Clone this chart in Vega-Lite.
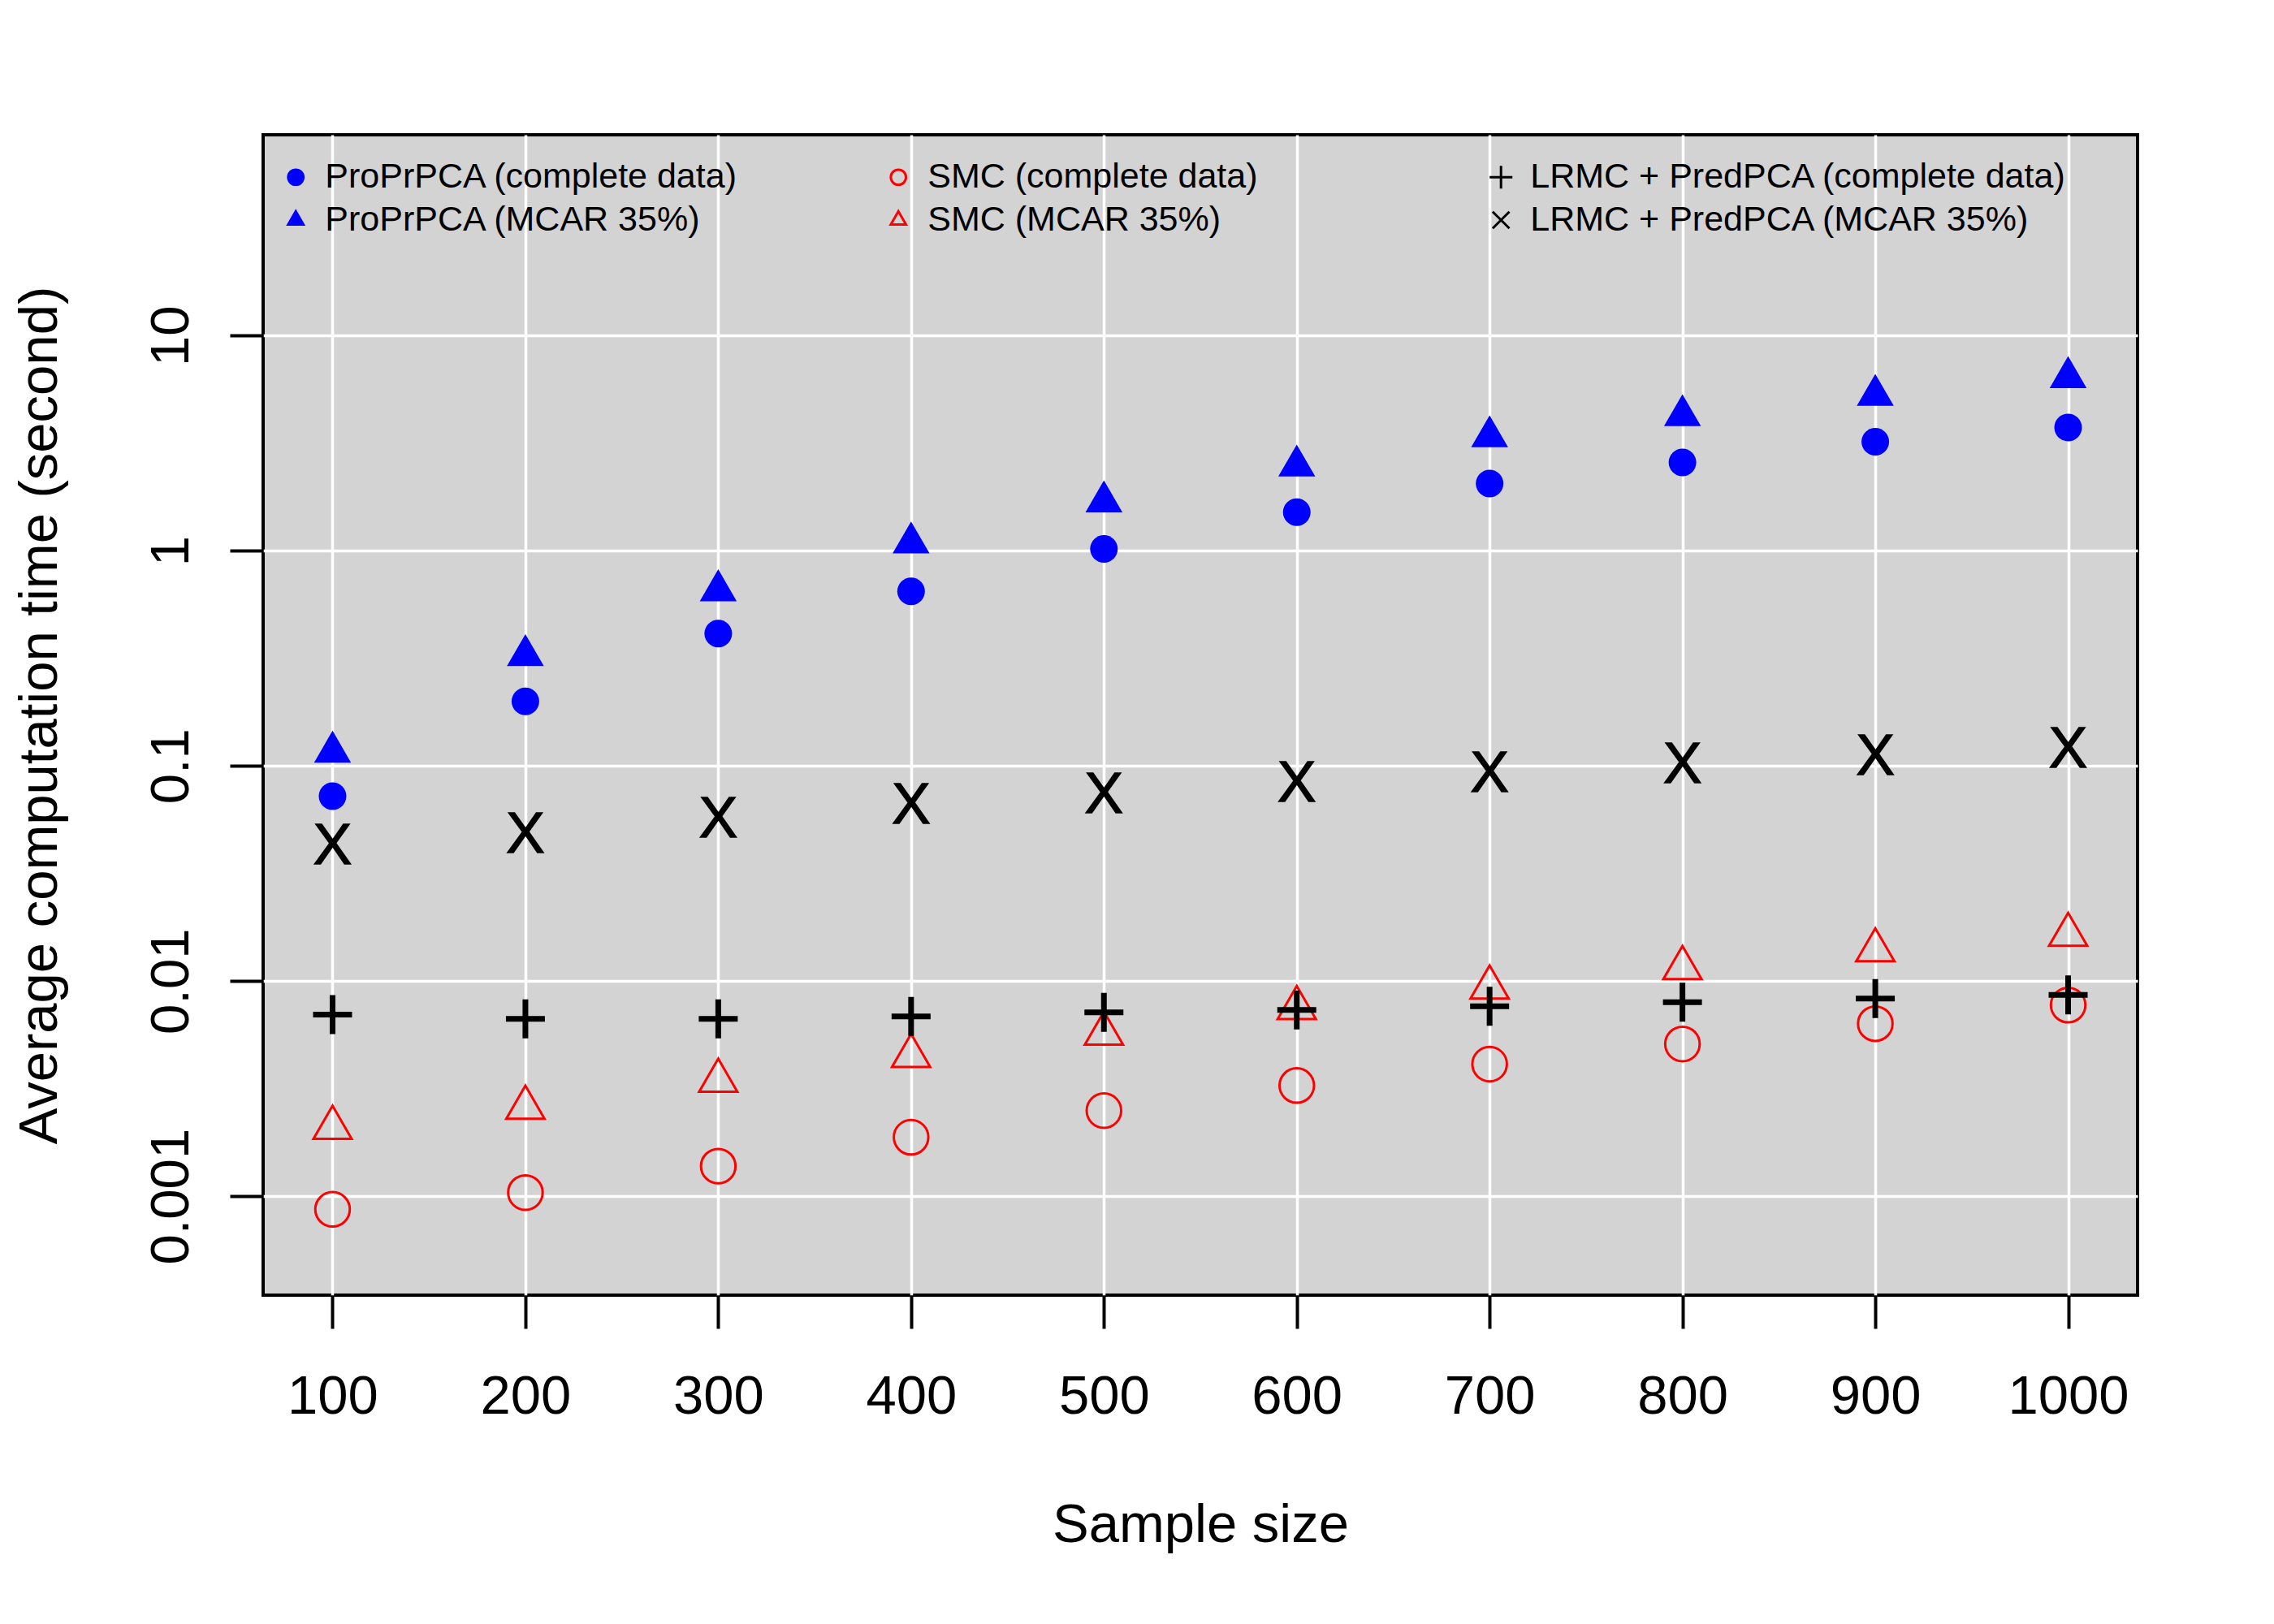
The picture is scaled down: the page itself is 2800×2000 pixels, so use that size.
{
  "$schema": "https://vega.github.io/schema/vega-lite/v6.json",
  "autosize": "none",
  "padding": {"left": 324, "top": 166, "right": 168, "bottom": 405},
  "width": 2308,
  "height": 1429,
  "background": "white",
  "data": {
    "values": [
      {"n": 100, "method": "ProPrPCA (complete data)", "time": 0.0724},
      {"n": 200, "method": "ProPrPCA (complete data)", "time": 0.1995},
      {"n": 300, "method": "ProPrPCA (complete data)", "time": 0.412},
      {"n": 400, "method": "ProPrPCA (complete data)", "time": 0.648},
      {"n": 500, "method": "ProPrPCA (complete data)", "time": 1.02},
      {"n": 600, "method": "ProPrPCA (complete data)", "time": 1.51},
      {"n": 700, "method": "ProPrPCA (complete data)", "time": 2.05},
      {"n": 800, "method": "ProPrPCA (complete data)", "time": 2.57},
      {"n": 900, "method": "ProPrPCA (complete data)", "time": 3.21},
      {"n": 1000, "method": "ProPrPCA (complete data)", "time": 3.74},
      {"n": 100, "method": "ProPrPCA (MCAR 35%)", "time": 0.116},
      {"n": 200, "method": "ProPrPCA (MCAR 35%)", "time": 0.326},
      {"n": 300, "method": "ProPrPCA (MCAR 35%)", "time": 0.653},
      {"n": 400, "method": "ProPrPCA (MCAR 35%)", "time": 1.089},
      {"n": 500, "method": "ProPrPCA (MCAR 35%)", "time": 1.69},
      {"n": 600, "method": "ProPrPCA (MCAR 35%)", "time": 2.48},
      {"n": 700, "method": "ProPrPCA (MCAR 35%)", "time": 3.39},
      {"n": 800, "method": "ProPrPCA (MCAR 35%)", "time": 4.25},
      {"n": 900, "method": "ProPrPCA (MCAR 35%)", "time": 5.28},
      {"n": 1000, "method": "ProPrPCA (MCAR 35%)", "time": 6.39},
      {"n": 100, "method": "SMC (complete data)", "time": 0.000869},
      {"n": 200, "method": "SMC (complete data)", "time": 0.00104},
      {"n": 300, "method": "SMC (complete data)", "time": 0.00138},
      {"n": 400, "method": "SMC (complete data)", "time": 0.00188},
      {"n": 500, "method": "SMC (complete data)", "time": 0.0025},
      {"n": 600, "method": "SMC (complete data)", "time": 0.00327},
      {"n": 700, "method": "SMC (complete data)", "time": 0.00411},
      {"n": 800, "method": "SMC (complete data)", "time": 0.0051},
      {"n": 900, "method": "SMC (complete data)", "time": 0.00634},
      {"n": 1000, "method": "SMC (complete data)", "time": 0.00773},
      {"n": 100, "method": "SMC (MCAR 35%)", "time": 0.00208},
      {"n": 200, "method": "SMC (MCAR 35%)", "time": 0.00258},
      {"n": 300, "method": "SMC (MCAR 35%)", "time": 0.00344},
      {"n": 400, "method": "SMC (MCAR 35%)", "time": 0.00449},
      {"n": 500, "method": "SMC (MCAR 35%)", "time": 0.0057},
      {"n": 600, "method": "SMC (MCAR 35%)", "time": 0.0075},
      {"n": 700, "method": "SMC (MCAR 35%)", "time": 0.00934},
      {"n": 800, "method": "SMC (MCAR 35%)", "time": 0.0115},
      {"n": 900, "method": "SMC (MCAR 35%)", "time": 0.0139},
      {"n": 1000, "method": "SMC (MCAR 35%)", "time": 0.0164},
      {"n": 100, "method": "LRMC + PredPCA (complete data)", "time": 0.00698},
      {"n": 200, "method": "LRMC + PredPCA (complete data)", "time": 0.00668},
      {"n": 300, "method": "LRMC + PredPCA (complete data)", "time": 0.00668},
      {"n": 400, "method": "LRMC + PredPCA (complete data)", "time": 0.00685},
      {"n": 500, "method": "LRMC + PredPCA (complete data)", "time": 0.00716},
      {"n": 600, "method": "LRMC + PredPCA (complete data)", "time": 0.00735},
      {"n": 700, "method": "LRMC + PredPCA (complete data)", "time": 0.00763},
      {"n": 800, "method": "LRMC + PredPCA (complete data)", "time": 0.00798},
      {"n": 900, "method": "LRMC + PredPCA (complete data)", "time": 0.0083},
      {"n": 1000, "method": "LRMC + PredPCA (complete data)", "time": 0.00863},
      {"n": 100, "method": "LRMC + PredPCA (MCAR 35%)", "time": 0.0438},
      {"n": 200, "method": "LRMC + PredPCA (MCAR 35%)", "time": 0.0494},
      {"n": 300, "method": "LRMC + PredPCA (MCAR 35%)", "time": 0.058},
      {"n": 400, "method": "LRMC + PredPCA (MCAR 35%)", "time": 0.0673},
      {"n": 500, "method": "LRMC + PredPCA (MCAR 35%)", "time": 0.0757},
      {"n": 600, "method": "LRMC + PredPCA (MCAR 35%)", "time": 0.0855},
      {"n": 700, "method": "LRMC + PredPCA (MCAR 35%)", "time": 0.0944},
      {"n": 800, "method": "LRMC + PredPCA (MCAR 35%)", "time": 0.104},
      {"n": 900, "method": "LRMC + PredPCA (MCAR 35%)", "time": 0.1137},
      {"n": 1000, "method": "LRMC + PredPCA (MCAR 35%)", "time": 0.123}
    ]
  },
  "encoding": {
    "x": {
      "field": "n",
      "type": "quantitative",
      "scale": {"domain": [64, 1036], "nice": false, "zero": false},
      "axis": {
        "values": [100, 200, 300, 400, 500, 600, 700, 800, 900, 1000],
        "format": "d",
        "title": "Sample size",
        "titleX": 1154,
        "titleY": 303,
        "titleAlign": "center",
        "titleBaseline": "alphabetic",
        "labelPadding": 104,
        "labelBaseline": "alphabetic"
      }
    },
    "y": {
      "field": "time",
      "type": "quantitative",
      "scale": {"type": "log", "domain": [0.000347, 85.7], "nice": false},
      "axis": {
        "values": [0.001, 0.01, 0.1, 1, 10],
        "format": "~g",
        "title": "Average computation time (second)",
        "titleX": -255,
        "titleY": 714.5,
        "titleAngle": -90,
        "titleAlign": "center",
        "titleBaseline": "alphabetic",
        "labelAngle": -90,
        "labelAlign": "center",
        "labelBaseline": "alphabetic",
        "labelPadding": 52
      }
    }
  },
  "layer": [
    {
      "transform": [{"filter": "datum.method === 'ProPrPCA (complete data)'"}],
      "mark": {"type": "point", "size": 1156, "strokeWidth": 0, "opacity": 1},
      "encoding": {
        "shape": {"field": "method", "type": "nominal", "legend": {"title": null},
          "scale": {"domain": ["ProPrPCA (complete data)", "ProPrPCA (MCAR 35%)", "SMC (complete data)", "SMC (MCAR 35%)", "LRMC + PredPCA (complete data)", "LRMC + PredPCA (MCAR 35%)"],
            "range": ["M1,0A1,1,0,1,1,-1,0A1,1,0,1,1,1,0Z", "M0,-1.1547L1,0.5774L-1,0.5774Z", "M1,0A1,1,0,1,1,-1,0A1,1,0,1,1,1,0Z", "M0,-1.1547L1,0.5774L-1,0.5774Z", "M-1.5,0L1.5,0M0,-1.5L0,1.5", "M-1.1,-1.1L1.1,1.1M1.1,-1.1L-1.1,1.1"]}},
        "fill": {"field": "method", "type": "nominal", "legend": {"title": null},
          "scale": {"domain": ["ProPrPCA (complete data)", "ProPrPCA (MCAR 35%)", "SMC (complete data)", "SMC (MCAR 35%)", "LRMC + PredPCA (complete data)", "LRMC + PredPCA (MCAR 35%)"],
            "range": ["blue", "blue", "transparent", "transparent", "transparent", "transparent"]}},
        "stroke": {"field": "method", "type": "nominal", "legend": {"title": null},
          "scale": {"domain": ["ProPrPCA (complete data)", "ProPrPCA (MCAR 35%)", "SMC (complete data)", "SMC (MCAR 35%)", "LRMC + PredPCA (complete data)", "LRMC + PredPCA (MCAR 35%)"],
            "range": ["blue", "blue", "red", "red", "black", "black"]}}
      }
    },
    {
      "transform": [{"filter": "datum.method === 'ProPrPCA (MCAR 35%)'"}],
      "mark": {"type": "point", "size": 2070, "strokeWidth": 0, "opacity": 1},
      "encoding": {
        "shape": {"field": "method", "type": "nominal", "legend": {"title": null}},
        "fill": {"field": "method", "type": "nominal", "legend": {"title": null}},
        "stroke": {"field": "method", "type": "nominal", "legend": {"title": null}}
      }
    },
    {
      "transform": [{"filter": "datum.method === 'SMC (complete data)'"}],
      "mark": {"type": "point", "size": 1806, "strokeWidth": 3, "opacity": 1},
      "encoding": {
        "shape": {"field": "method", "type": "nominal", "legend": {"title": null}},
        "fill": {"field": "method", "type": "nominal", "legend": {"title": null}},
        "stroke": {"field": "method", "type": "nominal", "legend": {"title": null}}
      }
    },
    {
      "transform": [{"filter": "datum.method === 'SMC (MCAR 35%)'"}],
      "mark": {"type": "point", "size": 2209, "strokeWidth": 3, "opacity": 1},
      "encoding": {
        "shape": {"field": "method", "type": "nominal", "legend": {"title": null}},
        "fill": {"field": "method", "type": "nominal", "legend": {"title": null}},
        "stroke": {"field": "method", "type": "nominal", "legend": {"title": null}}
      }
    },
    {
      "transform": [{"filter": "datum.method === 'LRMC + PredPCA (complete data)'"}],
      "mark": {"type": "point", "size": 1024, "strokeWidth": 7, "opacity": 1},
      "encoding": {
        "shape": {"field": "method", "type": "nominal", "legend": {"title": null}},
        "fill": {"field": "method", "type": "nominal", "legend": {"title": null}},
        "stroke": {"field": "method", "type": "nominal", "legend": {"title": null}}
      }
    },
    {
      "transform": [{"filter": "datum.method === 'LRMC + PredPCA (MCAR 35%)'"}],
      "mark": {"type": "text", "text": "X", "font": "Liberation Sans", "fontSize": 71, "align": "center", "baseline": "alphabetic", "dy": 25.5, "fill": "black", "stroke": "black", "strokeWidth": 1.5}
    }
  ],
  "config": {
    "view": {"fill": "#d3d3d3", "stroke": "black", "strokeWidth": 4},
    "font": "Liberation Sans",
    "axis": {
      "grid": true,
      "gridColor": "white",
      "gridWidth": 3.5,
      "gridOpacity": 1,
      "domain": false,
      "ticks": true,
      "tickSize": 41,
      "tickWidth": 4,
      "tickColor": "black",
      "labelFont": "Liberation Sans",
      "labelFontSize": 67,
      "labelColor": "black",
      "labelOverlap": false,
      "labelFlush": false,
      "titleFont": "Liberation Sans",
      "titleFontSize": 67,
      "titleFontWeight": "normal",
      "titleColor": "black"
    },
    "legend": {
      "orient": "none",
      "legendX": 18.7,
      "legendY": 30.5,
      "columns": 3,
      "gridAlign": "all",
      "columnPadding": 23,
      "rowPadding": 9,
      "padding": 0,
      "labelFont": "Liberation Sans",
      "labelFontSize": 43,
      "labelColor": "black",
      "labelLimit": 2000,
      "labelOffset": 14.6,
      "symbolSize": 350,
      "symbolStrokeWidth": 3,
      "symbolOpacity": 1
    }
  }
}
